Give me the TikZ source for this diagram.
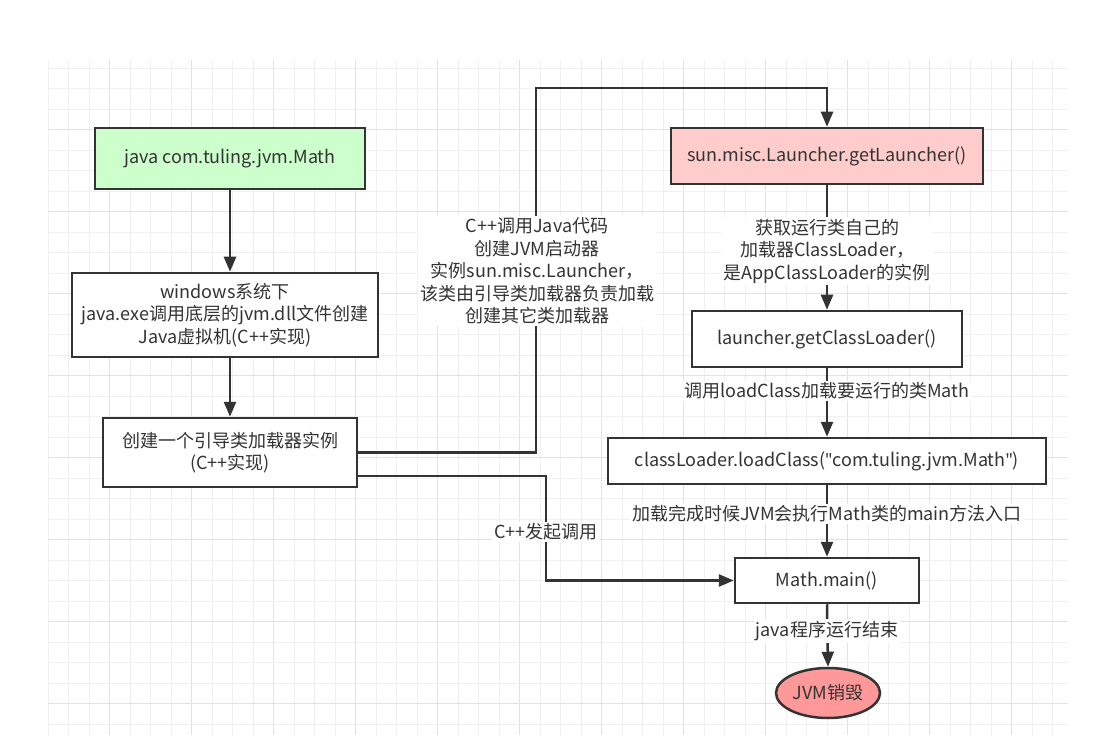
\documentclass[tikz,border=0pt]{standalone}
\usepackage{fontspec}
\setmainfont{Noto Sans CJK SC}
\newfontfamily\qfont{Noto Sans}
\newcommand{\sq}{{\qfont\symbol{34}}}
\usetikzlibrary{arrows.meta,shapes.geometric}
\definecolor{ink}{HTML}{333333}
\definecolor{gridminor}{HTML}{F0F0F0}
\definecolor{gridmajor}{HTML}{E2E2E2}
\definecolor{greenfill}{HTML}{CCFFCC}
\definecolor{pinkfill}{HTML}{FFCCCC}
\definecolor{redfill}{HTML}{FF9999}
\begin{document}
\begin{tikzpicture}[x=1pt,y=-1pt,
  txt/.style={font=\fontsize{18}{22.5}\selectfont, text=ink, align=center},
  box/.style={txt, draw=ink, line width=2.5pt, fill=white, inner sep=0pt, rectangle},
  lbl/.style={txt, fill=white, inner sep=2pt},
  ln/.style={draw=ink, line width=2.5pt},
  arr/.style={ln, -{Triangle[length=15pt,width=12pt]}}]
\useasboundingbox (0,0) rectangle (1117,735);
\fill[white] (0,0) rectangle (1117,735);
% grid
\begin{scope}
\clip (48,60) rectangle (1068,735);
\foreach \k in {0,...,50}{
  \pgfmathtruncatemacro\m{mod(\k,4)}
  \ifnum\m=3
    \draw[gridmajor, line width=1.2pt] (48+20.5*\k,60) -- (48+20.5*\k,735);
  \else
    \draw[gridminor, line width=1pt] (48+20.5*\k,60) -- (48+20.5*\k,735);
  \fi
}
\foreach \k in {0,...,33}{
  \pgfmathtruncatemacro\m{mod(\k,4)}
  \ifnum\m=3
    \draw[gridmajor, line width=1.2pt] (48,68.3+20.5*\k) -- (1068,68.3+20.5*\k);
  \else
    \draw[gridminor, line width=1pt] (48,68.3+20.5*\k) -- (1068,68.3+20.5*\k);
  \fi
}
\end{scope}
% nodes
\node[box, fill=greenfill, minimum width=270pt, minimum height=61pt] (java) at (230,158.5) {java com.tuling.jvm.Math};
\node[box, minimum width=306pt, minimum height=84pt] (win) at (225,315) {windows系统下\\java.exe调用底层的jvm.dll文件创建\\Java虚拟机(C++实现)};
\node[box, minimum width=254pt, minimum height=69pt] (cj) at (230,452.5) {创建一个引导类加载器实例\\(C++实现)};
\node[box, fill=pinkfill, minimum width=312pt, minimum height=56pt] (pink) at (827,156) {sun.misc.Launcher.getLauncher()};
\node[box, minimum width=270pt, minimum height=56pt] (lau) at (827,339) {launcher.getClassLoader()};
\node[box, minimum width=438pt, minimum height=46pt] (cl) at (827,461) {classLoader.loadClass(\sq com.tuling.jvm.Math\sq)};
\node[box, minimum width=184pt, minimum height=45pt] (mm) at (827,580.5) {Math.main()};
\node[box, ellipse, fill=redfill, minimum width=104pt, minimum height=50pt] (end) at (828,693) {JVM销毁};
\coordinate (t1) at (536,88);
\coordinate (cjlow) at (357,476);
\coordinate (t2) at (546,580.5);
% connectors
\draw[arr] (java.south -| 230,0) -- (win.north -| 230,0);
\draw[arr] (win.south -| 230,0) -- (cj.north);
\draw[arr] (cj.east) -| (t1) -| (pink.north);
\draw[arr] (cjlow) -| (t2) -- (mm.west);
\draw[arr] (pink.south) -- (lau.north);
\draw[arr] (lau.south) -- (cl.north);
\draw[arr] (cl.south) -- (mm.north);
\draw[arr] (mm.south) -- (end.north);
% labels
\node[lbl] (l1) at (537,271) {C++调用Java代码\\创建JVM启动器\\实例sun.misc.Launcher，\\该类由引导类加载器负责加载\\创建其它类加载器};
\node[lbl] (l2) at (546,532) {C++发起调用};
\node[lbl] (l3) at (827,251) {获取运行类自己的\\加载器ClassLoader，\\是AppClassLoader的实例};
\node[lbl] (l4) at (827,391) {调用loadClass加载要运行的类Math};
\node[lbl] (l5) at (827,514) {加载完成时候JVM会执行Math类的main方法入口};
\node[lbl] (l6) at (827,631) {java程序运行结束};
\end{tikzpicture}
\end{document}
